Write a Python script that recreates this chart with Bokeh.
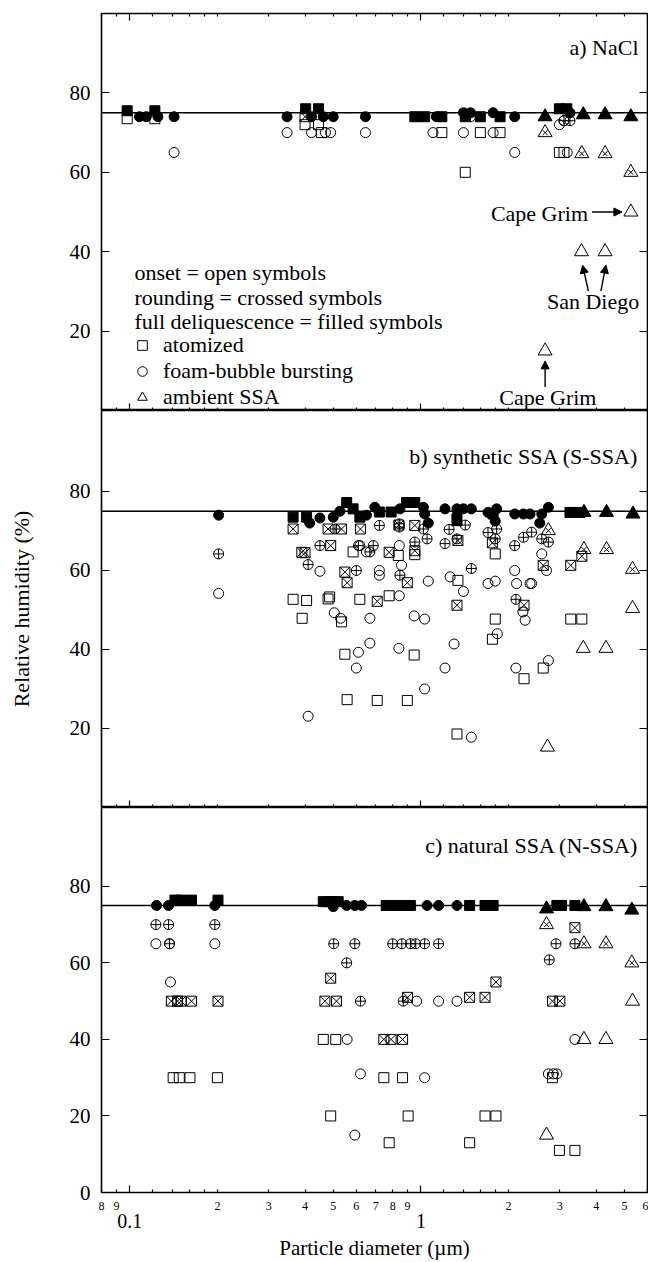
from bokeh.plotting import figure
from bokeh.layouts import column
from bokeh.models import (Range1d, LinearAxis, LogAxis, FixedTicker, Span, Label,
                          Arrow, NormalHead, Legend, LegendItem, CustomJSTickFormatter)
from bokeh.embed import file_html
from bokeh.resources import INLINE

FONT = "Liberation Serif"

# ---------------- axes / ticks ----------------
X_LO, X_HI = 0.08, 6.0
x_major = [0.1, 1.0]
x_labeled = [0.08, 0.09, 0.2, 0.3, 0.4, 0.5, 0.6, 0.7, 0.8, 0.9, 2, 3, 4, 5, 6]
x_minor_extra = [0.12, 0.14, 0.16, 0.18, 1.2, 1.4, 1.6, 1.8]
y_ticks = [20, 40, 60, 80]
y_ticks_c = [0, 20, 40, 60, 80]
rh_line = 75

# ---------------- panel a) NaCl ----------------
a_open_sq_x = [0.098, 0.122, 0.40, 0.445, 0.455, 1.18, 1.60, 1.87, 1.42, 2.99, 3.10]
a_open_sq_y = [73.5, 73.5, 72, 72, 70, 70, 70, 70, 60, 65, 65]
a_cross_sq_x = [0.40]
a_cross_sq_y = [74]
a_fill_sq_x = [0.098, 0.122, 0.402, 0.445, 0.953, 1.03, 1.18, 1.42, 1.60, 1.87, 2.99, 3.17]
a_fill_sq_y = [75.5, 75.5, 76, 76, 74, 74, 74, 74, 74, 74, 76, 76]
a_open_ci_x = [0.142, 0.347, 0.421, 0.47, 0.49, 0.645, 1.10, 1.40, 1.77, 2.10, 2.99, 3.10, 3.18]
a_open_ci_y = [65, 70, 70, 70, 70, 70, 70, 70, 70, 65, 72, 73, 65]
a_cross_ci_x = [1.48, 3.10, 3.25]
a_cross_ci_y = [74, 73, 73]
a_fill_ci_x = [0.108, 0.114, 0.125, 0.142, 0.347, 0.421, 0.462, 0.50, 0.645, 1.13, 1.40, 1.48, 1.77, 2.10, 3.25]
a_fill_ci_y = [74, 74, 74, 74, 74, 74, 74, 74, 74, 74, 75, 75, 75, 74, 75]
a_open_tr_x = [5.26, 3.56, 4.29, 2.67]
a_open_tr_y = [50, 40, 40, 15]
a_cross_tr_x = [2.67, 3.57, 4.29, 5.26]
a_cross_tr_y = [70, 64.7, 64.7, 60]
a_fill_tr_x = [2.67, 3.61, 4.29, 5.26]
a_fill_tr_y = [74, 74.5, 74.5, 74]

# ---------------- panel b) synthetic SSA ----------------
b_open_sq_x = [0.585, 0.953, 0.836, 1.34, 1.80, 0.364, 0.405, 0.486, 0.48, 0.617, 0.778, 0.391, 0.534,
               0.548, 0.558, 0.708, 0.898, 0.948, 1.33, 1.76, 1.80, 2.26, 2.63, 3.27, 3.57]
b_open_sq_y = [64.7, 64.0, 63.8, 57.5, 64.2, 52.7, 52.4, 53.3, 52.8, 52.7, 53.6, 47.9, 47.0,
               38.8, 27.3, 27.1, 27.1, 38.6, 18.6, 42.6, 47.7, 32.6, 35.3, 47.7, 47.7]
b_cross_sq_x = [0.364, 0.48, 0.534, 0.62, 0.39, 0.40, 0.49, 0.548, 0.558, 0.708, 0.778, 0.84, 0.953,
                0.953, 0.898, 1.34, 1.33, 1.76, 2.26, 2.63, 3.27, 3.57]
b_cross_sq_y = [70.5, 70.5, 70.5, 70.5, 64.6, 64.5, 66.3, 59.6, 56.9, 52.2, 64.6, 71.5, 71.4,
                65.0, 56.9, 67.6, 51.2, 67.0, 51.2, 61.3, 61.3, 63.6]
b_fill_sq_x = [0.364, 0.405, 0.556, 0.585, 0.617, 0.72, 0.79, 0.893, 0.953, 1.33, 1.77, 3.25, 3.52]
b_fill_sq_y = [73.5, 73.5, 77.2, 75.6, 73.5, 74.8, 74.8, 77.2, 77.2, 72.6, 74.3, 74.7, 74.7]
b_open_ci_x = [0.202, 0.41, 0.45, 0.504, 0.53, 0.617, 0.65, 0.668, 0.668, 0.61, 0.60, 0.72, 0.72,
               0.843, 0.843, 0.858, 0.84, 0.948, 1.03, 1.03, 1.06, 1.21, 1.26, 1.30, 1.40, 1.49,
               1.70, 1.80, 1.83, 2.10, 2.13, 2.37, 2.40, 2.12, 2.24, 2.28, 2.60, 2.70, 2.74]
b_open_ci_y = [54.2, 23.1, 59.8, 49.3, 47.9, 66.3, 64.7, 47.9, 41.6, 39.3, 35.3, 60.0, 58.8,
               66.3, 53.6, 61.3, 40.3, 48.5, 47.7, 30.0, 57.3, 35.3, 58.4, 41.4, 54.7, 17.8,
               56.7, 57.3, 44.0, 60.0, 56.7, 56.7, 56.7, 35.3, 49.5, 47.4, 64.2, 60.0, 37.2]
b_cross_ci_x = [0.202, 0.507, 0.45, 0.41, 0.61, 0.60, 0.72, 0.843, 0.843, 1.02, 1.05, 0.953, 0.686,
                0.668, 0.847, 1.25, 1.42, 1.21, 1.33, 1.49, 1.70, 1.82, 1.80, 2.10, 2.25, 2.40,
                2.60, 2.74, 2.12]
b_cross_ci_y = [64.2, 70.5, 66.3, 61.5, 66.3, 60.0, 71.4, 71.8, 71.0, 70.5, 68.0, 67.2, 66.3,
                64.7, 58.8, 70.4, 71.5, 66.8, 68.0, 60.5, 69.6, 70.5, 68.0, 66.3, 68.4, 69.7,
                68.0, 67.2, 52.7]
b_fill_ci_x = [0.202, 0.415, 0.45, 0.50, 0.527, 0.65, 0.695, 0.847, 1.02, 1.03, 1.06, 1.21, 1.33,
               1.33, 1.40, 1.49, 1.70, 1.82, 1.80, 2.10, 2.25, 2.37, 2.56, 2.60, 2.74]
b_fill_ci_y = [74, 72, 73.3, 73.5, 75, 74, 76, 75.6, 76, 74.3, 72, 75.6, 75.6,
               74, 75.6, 75.6, 74.7, 75.6, 72.5, 74.3, 74.3, 74.3, 72, 74.3, 76]
b_open_tr_x = [5.33, 3.61, 4.32, 2.72]
b_open_tr_y = [50.4, 40.3, 40.3, 15.3]
b_cross_tr_x = [2.74, 3.63, 4.34, 5.33]
b_cross_tr_y = [70.1, 65.3, 65.3, 60.3]
b_fill_tr_x = [3.63, 4.34, 5.35]
b_fill_tr_y = [74.7, 74.7, 74.3]

# ---------------- panel c) natural SSA ----------------
c_open_sq_x = [0.462, 0.51, 0.141, 0.148, 0.161, 0.20, 0.49, 0.746, 0.865, 0.904, 0.778, 1.47,
               1.66, 1.81, 2.83, 2.99, 3.38]
c_open_sq_y = [40, 40, 30, 30, 30, 30, 20, 30, 30, 20, 13, 13, 20, 20, 30, 11, 11]
c_cross_sq_x = [0.139, 0.146, 0.150, 0.163, 0.201, 0.49, 0.468, 0.513, 0.90, 1.47, 1.66, 1.81,
                2.83, 3.0, 3.38, 0.746, 0.79, 0.865]
c_cross_sq_y = [50, 50, 50, 50, 50, 56, 50, 50, 51, 51, 51, 55, 50, 50, 69.2, 40, 40, 40]
c_fill_sq_x = [0.143, 0.150, 0.163, 0.201, 0.462, 0.48, 0.50, 0.52, 0.76, 0.80, 0.84, 0.88, 0.92,
               1.47, 1.66, 1.77, 2.93, 3.04, 3.38]
c_fill_sq_y = [76.4, 76.4, 76.4, 76.4, 76, 76, 76, 76, 75, 75, 75, 75, 75, 75, 75, 75, 75, 75, 75]
c_open_ci_x = [0.123, 0.137, 0.196, 0.138, 0.146, 0.558, 0.62, 0.593, 1.03, 0.967, 1.15, 1.33,
               2.74, 2.85, 2.93, 3.38]
c_open_ci_y = [65, 65, 65, 55, 50, 40, 31, 15, 30, 50, 50, 50, 31, 31, 31, 40]
c_cross_ci_x = [0.123, 0.136, 0.196, 0.137, 0.502, 0.593, 0.556, 0.62, 0.80, 0.86, 0.92, 0.96,
                1.03, 1.15, 0.87, 2.91, 3.38, 2.76]
c_cross_ci_y = [70, 70, 70, 65, 65, 65, 60, 50, 65, 65, 65, 65, 65, 65, 50, 65, 65, 60.8]
c_fill_ci_x = [0.1236, 0.136, 0.196, 0.50, 0.556, 0.593, 0.625, 1.05, 1.15, 1.33]
c_fill_ci_y = [75, 75, 75, 74.7, 75, 75, 75, 75, 75, 75]
c_open_tr_x = [5.33, 3.63, 4.32, 2.70]
c_open_tr_y = [50, 40, 40, 15]
c_cross_tr_x = [2.70, 3.63, 4.32, 5.30]
c_cross_tr_y = [70, 65, 65, 60]
c_fill_tr_x = [2.70, 3.63, 4.32, 5.30]
c_fill_tr_y = [74.1, 74.7, 74.7, 73.8]

# ---------------- helpers ----------------
SIZES = {"square": 10, "circle": 10, "triangle": 14}
FRAME_W = 546
LEFT_B = 101


def add_points(p, xs, ys, shape, style):
    kw = dict(size=SIZES[shape], line_color="black", line_width=1)
    if style == "filled":
        return p.scatter(xs, ys, marker=shape, fill_color="black", **kw)
    if style == "open":
        return p.scatter(xs, ys, marker=shape, fill_color=None, **kw)
    if shape == "square":
        return p.scatter(xs, ys, marker="square_x", fill_color=None, **kw)
    if shape == "circle":
        return p.scatter(xs, ys, marker="circle_cross", fill_color=None, **kw)
    r = p.scatter(xs, ys, marker="triangle", fill_color=None, **kw)
    p.scatter(xs, ys, marker="x", size=7, line_color="black", line_width=1)
    return r


def hide_labels(ax):
    ax.major_label_text_font_size = "1px"
    ax.major_label_text_alpha = 0
    ax.major_label_standoff = 0
    ax.axis_line_alpha = 0


def x_tick_axis(ax):
    ax.ticker = FixedTicker(ticks=x_major, minor_ticks=x_labeled + x_minor_extra)
    ax.major_tick_in = 7
    ax.major_tick_out = 0
    ax.minor_tick_in = 3
    ax.minor_tick_out = 0
    ax.major_tick_line_width = 1.2
    ax.minor_tick_line_width = 1.2
    hide_labels(ax)


def make_panel(ymax, frame_h, border_top, yt, ticks_above):
    p = figure(frame_width=FRAME_W, frame_height=frame_h, x_axis_type="log",
               x_range=Range1d(X_LO, X_HI), y_range=Range1d(0, ymax),
               output_backend="svg", toolbar_location=None,
               min_border_left=LEFT_B, min_border_right=1,
               min_border_top=border_top, min_border_bottom=0,
               background_fill_color="white", border_fill_color="white")
    p.outline_line_color = "black"
    p.outline_line_width = 1.6
    p.grid.visible = False
    x_tick_axis(p.xaxis[0])
    ya = p.yaxis[0]
    ya.ticker = FixedTicker(ticks=yt)
    ya.major_tick_in = 8
    ya.major_tick_out = 0
    ya.minor_tick_in = 0
    ya.minor_tick_out = 0
    ya.major_tick_line_width = 1.2
    ya.axis_line_alpha = 0
    ya.major_label_text_font = FONT
    ya.major_label_text_font_size = "21px"
    ya.major_label_text_color = "black"
    ya.major_label_standoff = 11
    ra = LinearAxis(ticker=FixedTicker(ticks=y_ticks), major_tick_in=8, major_tick_out=0,
                    minor_tick_in=0, minor_tick_out=0, major_tick_line_width=1.2)
    hide_labels(ra)
    p.add_layout(ra, "right")
    if ticks_above:
        ta = LogAxis()
        x_tick_axis(ta)
        p.add_layout(ta, "above")
    p.add_layout(Span(location=rh_line, dimension="width", line_color="black", line_width=1.6))
    return p


def draw_panel(p, d):
    rs = {}
    for shape in ("square", "circle", "triangle"):
        for style in ("open", "cross", "filled"):
            xs, ys = d[(shape, style)]
            if xs:
                rs[(shape, style)] = add_points(p, xs, ys, shape, style)
    return rs


def text(p, s, x, y, align="left", size="22px", units="screen"):
    p.add_layout(Label(x=x, y=y, x_units=units, y_units=units, text=s, text_align=align,
                       text_baseline="middle", text_font=FONT, text_font_size=size,
                       text_color="black"))


def arrow(p, x0, y0, x1, y1):
    p.add_layout(Arrow(end=NormalHead(size=8, fill_color="black", line_color="black"),
                       x_start=x0, y_start=y0, x_end=x1, y_end=y1,
                       line_color="black", line_width=1.4))


# ---------------- build panels ----------------
pa = make_panel(100, 397, 13, y_ticks, True)
pb = make_panel(100.5, 397, 0, y_ticks, False)
pc = make_panel(100.6, 385, 0, y_ticks_c, False)

da = {("square", "open"): (a_open_sq_x, a_open_sq_y), ("square", "cross"): (a_cross_sq_x, a_cross_sq_y),
      ("square", "filled"): (a_fill_sq_x, a_fill_sq_y), ("circle", "open"): (a_open_ci_x, a_open_ci_y),
      ("circle", "cross"): (a_cross_ci_x, a_cross_ci_y), ("circle", "filled"): (a_fill_ci_x, a_fill_ci_y),
      ("triangle", "open"): (a_open_tr_x, a_open_tr_y), ("triangle", "cross"): (a_cross_tr_x, a_cross_tr_y),
      ("triangle", "filled"): (a_fill_tr_x, a_fill_tr_y)}
db = {("square", "open"): (b_open_sq_x, b_open_sq_y), ("square", "cross"): (b_cross_sq_x, b_cross_sq_y),
      ("square", "filled"): (b_fill_sq_x, b_fill_sq_y), ("circle", "open"): (b_open_ci_x, b_open_ci_y),
      ("circle", "cross"): (b_cross_ci_x, b_cross_ci_y), ("circle", "filled"): (b_fill_ci_x, b_fill_ci_y),
      ("triangle", "open"): (b_open_tr_x, b_open_tr_y), ("triangle", "cross"): (b_cross_tr_x, b_cross_tr_y),
      ("triangle", "filled"): (b_fill_tr_x, b_fill_tr_y)}
dc = {("square", "open"): (c_open_sq_x, c_open_sq_y), ("square", "cross"): (c_cross_sq_x, c_cross_sq_y),
      ("square", "filled"): (c_fill_sq_x, c_fill_sq_y), ("circle", "open"): (c_open_ci_x, c_open_ci_y),
      ("circle", "cross"): (c_cross_ci_x, c_cross_ci_y), ("circle", "filled"): (c_fill_ci_x, c_fill_ci_y),
      ("triangle", "open"): (c_open_tr_x, c_open_tr_y), ("triangle", "cross"): (c_cross_tr_x, c_cross_tr_y),
      ("triangle", "filled"): (c_fill_tr_x, c_fill_tr_y)}

ra_ = draw_panel(pa, da)
draw_panel(pb, db)
draw_panel(pc, dc)

# panel titles
text(pa, "a) NaCl", 537, 363, align="right")
text(pb, "b) synthetic SSA (S-SSA)", 537, 351, align="right")
text(pc, "c) natural SSA (N-SSA)", 537, 347, align="right")

# panel a legend
text(pa, "onset = open symbols", 33, 138)
text(pa, "rounding = crossed symbols", 33, 113)
text(pa, "full deliquescence = filled symbols", 33, 89)
leg = Legend(items=[LegendItem(label="atomized", renderers=[ra_[("square", "open")]]),
                    LegendItem(label="foam-bubble bursting", renderers=[ra_[("circle", "open")]]),
                    LegendItem(label="ambient SSA", renderers=[ra_[("triangle", "open")]])],
             location=(29, 0), padding=0, margin=0, spacing=0,
             glyph_width=24, glyph_height=24, label_height=24, label_standoff=9,
             label_text_font=FONT, label_text_font_size="22px", label_text_color="black",
             border_line_alpha=0, background_fill_alpha=0)
pa.add_layout(leg)

# annotations in panel a
text(pa, "Cape Grim", 3.75, 49.5, align="right", units="data")
arrow(pa, 3.87, 50, 4.9, 50)
text(pa, "San Diego", 3.9, 27.5, align="center", units="data")
arrow(pa, 3.76, 30.1, 3.59, 36.6)
arrow(pa, 4.15, 30.1, 4.32, 36.6)
text(pa, "Cape Grim", 2.73, 3.4, align="center", units="data")
arrow(pa, 2.67, 5.9, 2.67, 12.5)

# y axis title on the middle panel
yb = pb.yaxis[0]
yb.axis_label = "Relative humidity (%)"
yb.axis_label_text_font = FONT
yb.axis_label_text_font_size = "22px"
yb.axis_label_text_font_style = "normal"
yb.axis_label_text_color = "black"
yb.axis_label_standoff = 33

# bottom axis labels for panel c
ax2 = LogAxis(ticker=FixedTicker(ticks=x_labeled),
              formatter=CustomJSTickFormatter(code="const e = Math.floor(Math.log10(tick) + 1e-9); return String(Math.round(tick / Math.pow(10, e)));"),
              major_tick_in=0, major_tick_out=0, minor_tick_in=0, minor_tick_out=0,
              axis_line_alpha=0, major_label_standoff=9,
              major_label_text_font=FONT, major_label_text_font_size="12px",
              major_label_text_color="black")
pc.add_layout(ax2, "below")
ax3 = LogAxis(ticker=FixedTicker(ticks=x_major),
              formatter=CustomJSTickFormatter(code="return String(tick);"),
              major_tick_in=0, major_tick_out=0, minor_tick_in=0, minor_tick_out=0,
              axis_line_alpha=0, major_label_standoff=1,
              major_label_text_font=FONT, major_label_text_font_size="20px",
              major_label_text_color="black",
              axis_label="Particle diameter (\u00b5m)", axis_label_text_font=FONT,
              axis_label_text_font_size="21px", axis_label_text_font_style="normal",
              axis_label_text_color="black", axis_label_standoff=5)
pc.add_layout(ax3, "below")

layout = column(pa, pb, pc, spacing=0)
open("out.html", "w").write(file_html(layout, INLINE))
